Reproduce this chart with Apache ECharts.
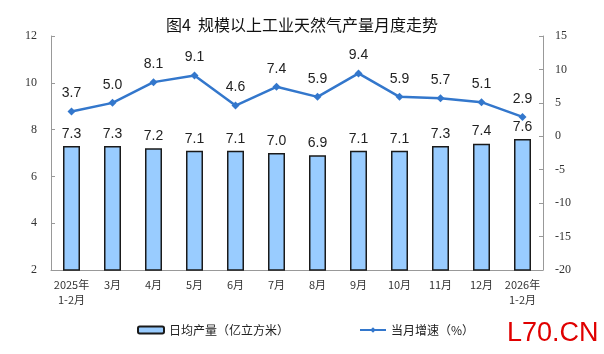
<!DOCTYPE html>
<html>
<head>
<meta charset="utf-8">
<script src="https://cdn.jsdelivr.net/npm/echarts@6/dist/echarts.min.js"></script>
<style>
	html, body { margin: 0; padding: 0; background: #fff; }
	#main { width: 604px; height: 354px; }
	#mark { position: absolute; left: 507px; top: 317px; font: 27px "Liberation Sans", Arial, sans-serif; color: #e00000; }
</style>
</head>
<body>
<div id="main"></div>
<div id="mark">L70.CN</div>
<script>
var months = ['2025年\n1-2月', '3月', '4月', '5月', '6月', '7月', '8月', '9月', '10月', '11月', '12月', '2026年\n1-2月'];
var dailyOutput = [7.3, 7.3, 7.2, 7.1, 7.1, 7.0, 6.9, 7.1, 7.1, 7.3, 7.4, 7.6];
var monthGrowth = [3.7, 5.0, 8.1, 9.1, 4.6, 7.4, 5.9, 9.4, 5.9, 5.7, 5.1, 2.9];

var cjk = '"Noto Sans CJK SC", sans-serif';
var serif = '"Liberation Serif", "Times New Roman", serif';
var sans = '"Liberation Sans", Arial, sans-serif';

var chart = echarts.init(document.getElementById('main'));

chart.setOption({
	animation: false,
	title: {
		text: '图4  规模以上工业天然气产量月度走势',
		left: 'center',
		top: 12,
		textStyle: { fontFamily: cjk, fontSize: 16, fontWeight: 'normal', color: '#111' }
	},
	legend: {
		left: 132,
		top: 319,
		itemWidth: 26,
		itemHeight: 7,
		itemGap: 70,
		textStyle: { fontFamily: cjk, fontSize: 12, color: '#222' },
		data: ['日均产量（亿立方米）', '当月增速（%）']
	},
	grid: { left: 51, right: 61, top: 36, bottom: 84 },
	xAxis: [{
		type: 'category',
		data: months,
		axisLine: { onZero: false, lineStyle: { color: '#999', width: 1 } },
		axisTick: { inside: true, length: 4, lineStyle: { color: '#999' } },
		axisLabel: { fontFamily: cjk, fontSize: 11, color: '#333', margin: 7, lineHeight: 15, interval: 0 }
	}],
	yAxis: [{
		type: 'value',
		min: 2,
		max: 12,
		interval: 2,
		splitLine: { show: false },
		axisLine: { show: true, lineStyle: { color: '#999' } },
		axisTick: { show: true, inside: true, length: 4, lineStyle: { color: '#999' } },
		axisLabel: { fontFamily: serif, fontSize: 12, color: '#333', margin: 14 }
	}, {
		type: 'value',
		min: -20,
		max: 15,
		interval: 5,
		splitLine: { show: false },
		axisLine: { show: true, lineStyle: { color: '#999' } },
		axisTick: { show: true, inside: true, length: 4, lineStyle: { color: '#999' } },
		axisLabel: { fontFamily: serif, fontSize: 12, color: '#333', margin: 12 }
	}],
	series: [{
		name: '日均产量（亿立方米）',
		type: 'bar',
		data: dailyOutput,
		barWidth: 17,
		itemStyle: { color: '#99CCFF', borderColor: '#1a1a1a', borderWidth: 1.5 },
		label: {
			show: true,
			position: 'top',
			distance: 5,
			formatter: function (p) { return p.value.toFixed(1); },
			fontFamily: sans, fontSize: 14, color: '#222'
		}
	}, {
		name: '当月增速（%）',
		type: 'line',
		yAxisIndex: 1,
		data: monthGrowth,
		symbol: 'diamond',
		symbolSize: 8,
		lineStyle: { color: '#3377CC', width: 2.5 },
		itemStyle: { color: '#3377CC' },
		label: {
			show: true,
			position: 'top',
			distance: 7,
			formatter: function (p) { return p.value.toFixed(1); },
			fontFamily: sans, fontSize: 14, color: '#222'
		}
	}]
});
</script>
</body>
</html>
